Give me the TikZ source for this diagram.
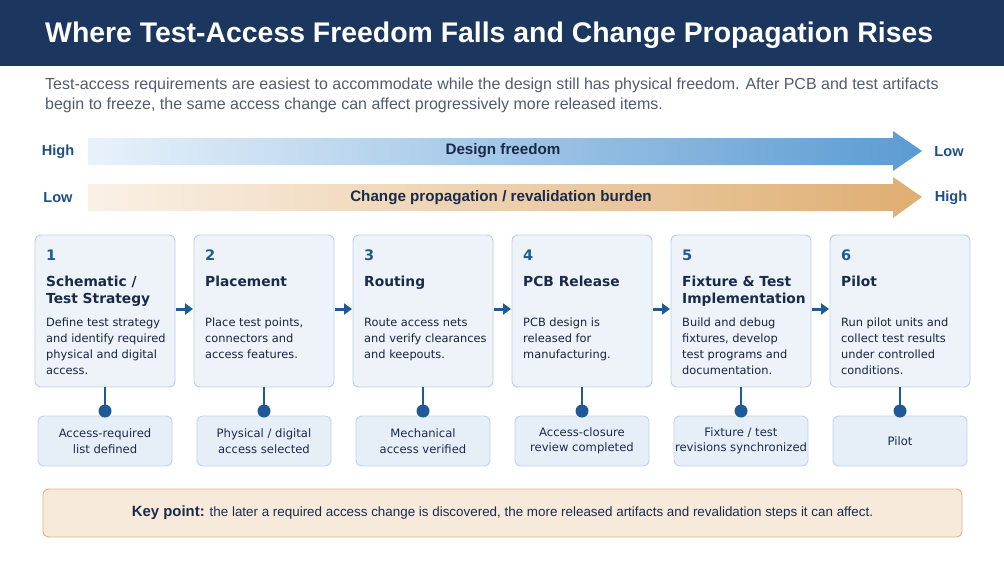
\documentclass[tikz,border=0pt]{standalone}
\usepackage{fontspec}
\setmainfont{Liberation Sans}
\newfontfamily\dv{DejaVu Sans}
\usetikzlibrary{arrows.meta}
\definecolor{navy}{HTML}{1B365F}
\definecolor{ink}{HTML}{1A2B4A}
\definecolor{blu}{HTML}{1F5A96}
\definecolor{boxfill}{HTML}{EEF3FA}
\definecolor{boxline}{HTML}{B9CFE6}
\definecolor{subfill}{HTML}{E6EEF7}
\definecolor{subline}{HTML}{C2D3E6}
\definecolor{graytxt}{HTML}{4F5D6E}
\definecolor{keyfill}{HTML}{F8EADB}
\definecolor{keyline}{HTML}{E2B47D}
\definecolor{bluA}{HTML}{E8F2FB}
\definecolor{bluB}{HTML}{5B9BD2}
\definecolor{orA}{HTML}{FAF1E6}
\definecolor{orB}{HTML}{DFAE72}
\tikzset{
  stepbox/.style={draw=boxline, fill=boxfill, line width=0.9pt, rounded corners=6pt, minimum width=140pt, minimum height=152pt, inner sep=0pt},
  subbox/.style={draw=subline, fill=subfill, line width=0.9pt, rounded corners=6pt, minimum width=134pt, minimum height=50pt, inner sep=0pt, font=\dv\fontsize{11.6}{15.5}\selectfont, text=ink, align=center},
  numtxt/.style={anchor=north west, inner sep=0pt, font=\dv\bfseries\fontsize{14.5}{16}\selectfont, text=blu},
  headtxt/.style={anchor=north west, inner sep=0pt, align=left, font=\dv\bfseries\fontsize{13.8}{17}\selectfont, text=ink},
  desctxt/.style={anchor=north west, inner sep=0pt, align=left, font=\dv\fontsize{11.4}{16}\selectfont, text=ink!85!black},
  flow/.style={blu, line width=3pt, -{Triangle[length=8pt,width=11pt]}},
  stem/.style={blu, line width=1.6pt},
  dot/.style={circle, fill=blu, minimum size=13pt, inner sep=0pt},
  sidelbl/.style={font=\bfseries\fontsize{14.6}{16}\selectfont, text=blu!70!navy},
  arrlbl/.style={font=\bfseries\fontsize{15.2}{17}\selectfont, text=ink}
}
\begin{document}
\begin{tikzpicture}[x=1pt,y=-1pt]
\useasboundingbox (0,0) rectangle (1004,565);
\fill[white] (0,0) rectangle (1004,565);
% title band
\fill[navy] (0,0) rectangle (1004,66);
\node[anchor=base west, inner sep=0pt, text=white, font=\bfseries\fontsize{28.4}{32}\selectfont] (title) at (45,42) {Where Test-Access Freedom Falls and Change Propagation Rises};
\node[anchor=north west, inner sep=0pt, align=left, text=graytxt, font=\fontsize{16}{19.5}\selectfont] (sub) at (45,78) {Test-access requirements are easiest to accommodate while the design still has physical freedom. After PCB and test artifacts\\begin to freeze, the same access change can affect progressively more released items.};
% gradient arrows
\shade[left color=bluA, right color=bluB] (88,138) -- (893,138) -- (893,131) -- (922,151) -- (893,171) -- (893,165) -- (88,165) -- cycle;
\node[arrlbl] (df) at (503,151) {Design freedom};
\node[sidelbl] (dfh) at (58,152) {High};
\node[sidelbl] (dfl) at (949,152) {Low};
\shade[left color=orA, right color=orB] (88,184) -- (893,184) -- (893,177) -- (922,197) -- (893,218) -- (893,211) -- (88,211) -- cycle;
\node[arrlbl] (cp) at (501,198) {Change propagation / revalidation burden};
\node[sidelbl] (cpl) at (58,198) {Low};
\node[sidelbl] (cph) at (951,198) {High};
% steps
\foreach \i/\n/\h/\d/\s in {
 1/1/{Schematic /\\Test Strategy}/{Define test strategy\\and identify required\\physical and digital\\access.}/{Access-required\\list defined},
 2/2/{Placement}/{Place test points,\\connectors and\\access features.}/{Physical / digital\\access selected},
 3/3/{Routing}/{Route access nets\\and verify clearances\\and keepouts.}/{Mechanical\\access verified},
 4/4/{PCB Release}/{PCB design is\\released for\\manufacturing.}/{Access-closure\\review completed},
 5/5/{Fixture \& Test\\Implementation}/{Build and debug\\fixtures, develop\\test programs and\\documentation.}/{Fixture / test\\revisions synchronized},
 6/6/{Pilot}/{Run pilot units and\\collect test results\\under controlled\\conditions.}/{Pilot}}{
  \pgfmathsetmacro{\cx}{105+159*(\i-1)}
  \node[stepbox] (s\i) at (\cx,311) {};
  \node[numtxt] (n\i) at (\cx-59,250) {\n};
  \node[headtxt] (h\i) at (\cx-59,276) {\h};
  \node[desctxt] (d\i) at (\cx-59,318) {\d};
  \node[subbox] (b\i) at (\cx,441) {\s};
  \node[dot] (c\i) at (\cx,411) {};
  \draw[stem] (s\i.south) -- (c\i.center);
}
\foreach \i [evaluate=\i as \j using int(\i+1)] in {1,...,5}{
  \draw[flow] ([xshift=1pt,yshift=2pt]s\i.east) -- ([xshift=-0.5pt,yshift=2pt]s\j.west);
}
% key point
\node[draw=keyline, fill=keyfill, line width=0.9pt, rounded corners=6pt, minimum width=919pt, minimum height=48pt, inner sep=0pt] (kp) at (502.5,513) {};
\node[inner sep=0pt, text=ink, font=\fontsize{13.4}{15}\selectfont] (kpt) at (kp.center) {{\bfseries\fontsize{14.9}{15}\selectfont Key point:} the later a required access change is discovered, the more released artifacts and revalidation steps it can affect.};
\end{tikzpicture}
\end{document}
